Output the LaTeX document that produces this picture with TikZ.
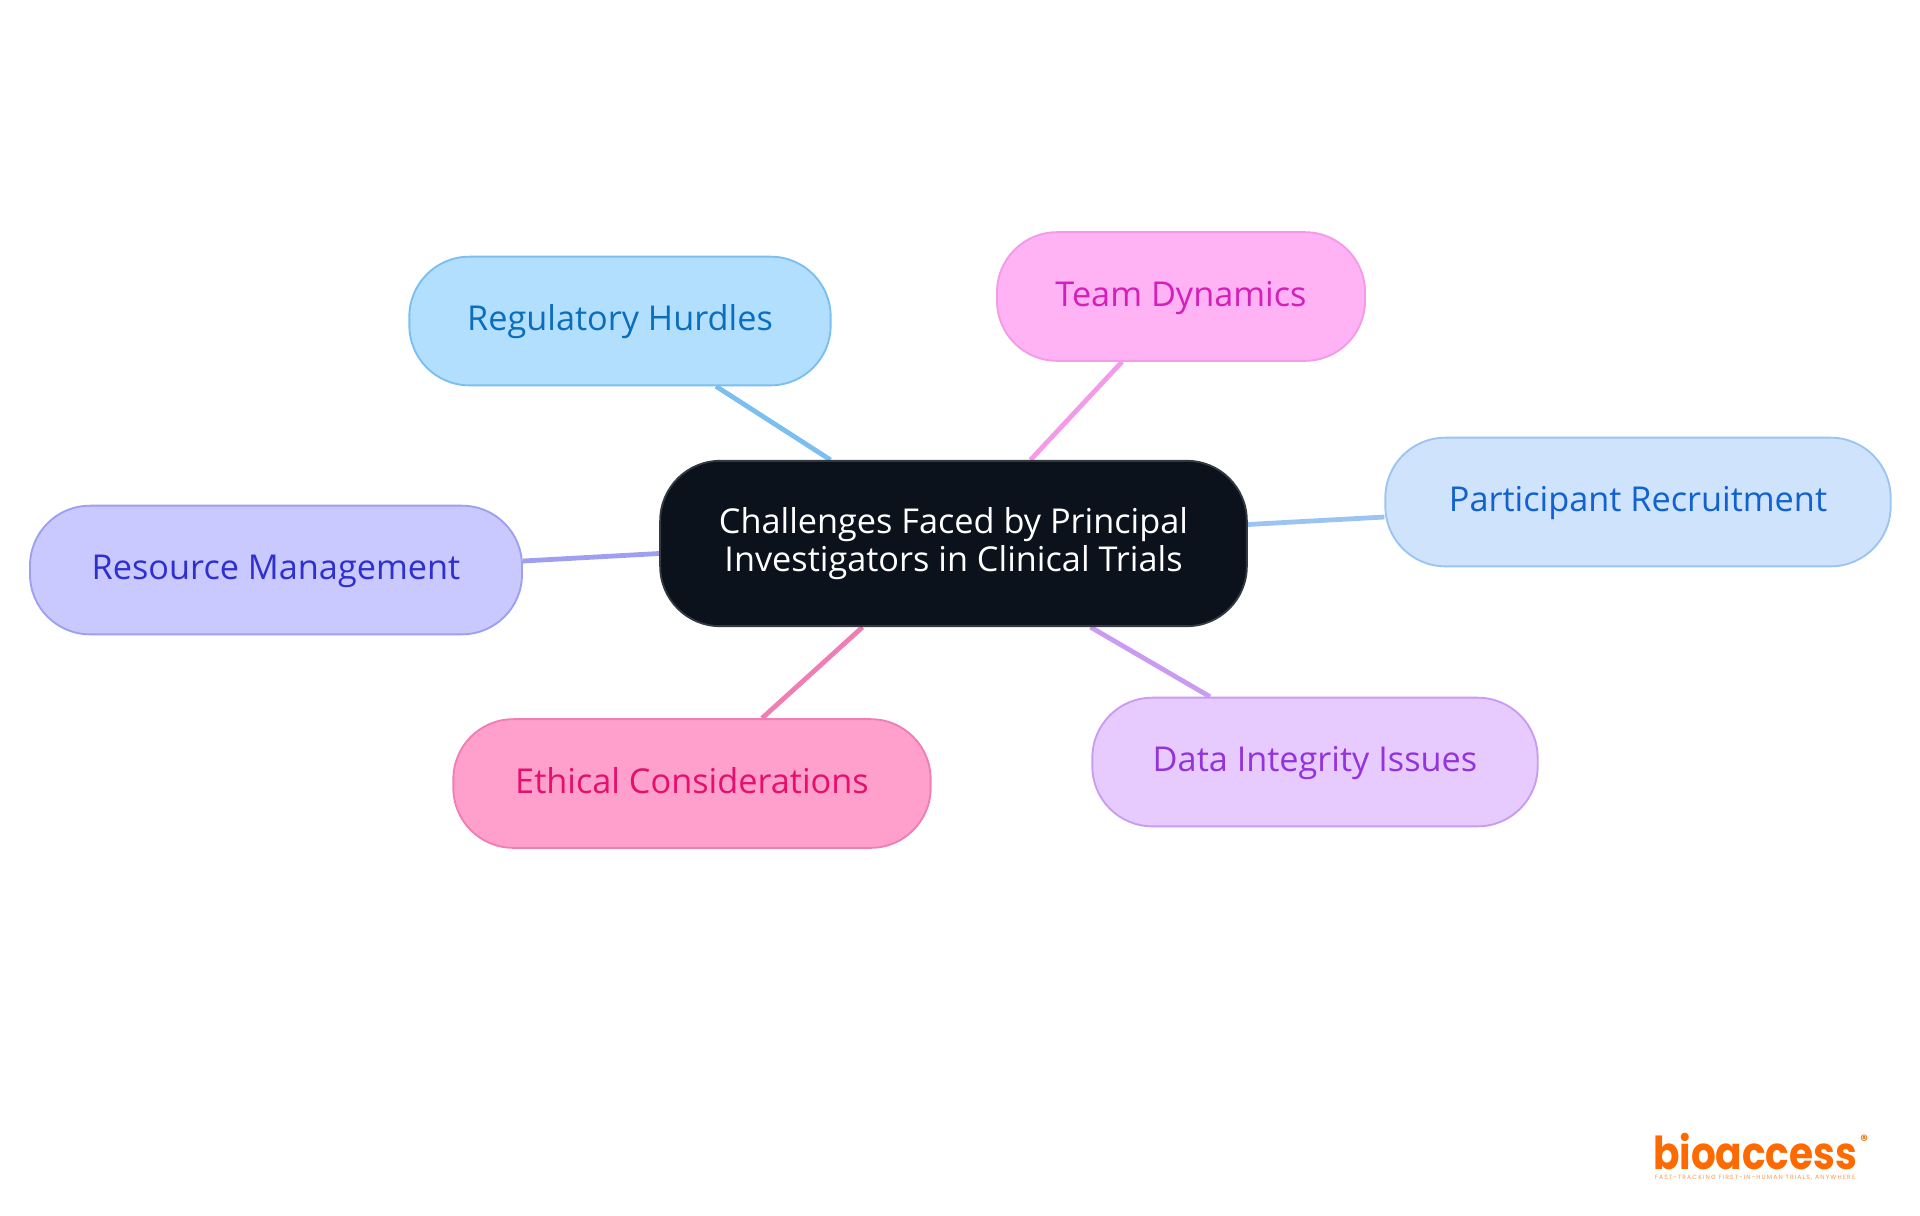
\documentclass[tikz,border=0pt]{standalone}
\usepackage{fontspec}
\setmainfont{Open Sans}
\newfontfamily\logofont{Poppins}
\usetikzlibrary{calc,backgrounds}

\definecolor{mainfill}{HTML}{0B121B}
\definecolor{mainline}{HTML}{34383F}
\definecolor{regfill}{HTML}{B3DFFF}
\definecolor{regline}{HTML}{7ABFF0}
\definecolor{regtext}{HTML}{0A6EBD}
\definecolor{teamfill}{HTML}{FFB3F5}
\definecolor{teamline}{HTML}{F39AE8}
\definecolor{teamtext}{HTML}{D41FB8}
\definecolor{partfill}{HTML}{CFE3FC}
\definecolor{partline}{HTML}{9CC4F2}
\definecolor{parttext}{HTML}{0F62D0}
\definecolor{datafill}{HTML}{E8CBFE}
\definecolor{dataline}{HTML}{C99BF3}
\definecolor{datatext}{HTML}{9333DC}
\definecolor{ethfill}{HTML}{FF9FCB}
\definecolor{ethline}{HTML}{F07DB4}
\definecolor{ethtext}{HTML}{E5106E}
\definecolor{resfill}{HTML}{C9C9FF}
\definecolor{resline}{HTML}{9E9FF0}
\definecolor{restext}{HTML}{2F2FCF}
\definecolor{logoorange}{HTML}{FF6A00}

\tikzset{
    topic/.style={draw, line width=1.4pt, rounded corners=45pt, align=center, inner sep=0pt,
        font=\fontsize{25.7}{28}\selectfont},
    leaf/.style={topic, minimum height=96.5pt, text height=20pt, text depth=5.4pt},
    regbox/.style={leaf, fill=regfill, draw=regline, text=regtext},
    teambox/.style={leaf, fill=teamfill, draw=teamline, text=teamtext},
    partbox/.style={leaf, fill=partfill, draw=partline, text=parttext},
    databox/.style={leaf, fill=datafill, draw=dataline, text=datatext},
    ethbox/.style={leaf, fill=ethfill, draw=ethline, text=ethtext},
    resbox/.style={leaf, fill=resfill, draw=resline, text=restext},
    link/.style={line width=3.6pt},
}

\begin{document}
\begin{tikzpicture}[x=0.75pt,y=-0.75pt]
    \useasboundingbox (0,0) rectangle (1920,1215);
    \node[topic, fill=mainfill, draw=mainline, text=white, minimum width=440pt, minimum height=124pt] (main) at (953.5,543.5)
        {Challenges Faced by Principal\\Investigators in Clinical Trials};
    \node[regbox, minimum width=316pt] (regulatory) at (620,321) {Regulatory Hurdles};
    \node[teambox, minimum width=276pt] (team) at (1181,296.5) {Team Dynamics};
    \node[partbox, minimum width=379pt] (participant) at (1638,502) {Participant Recruitment};
    \node[databox, minimum width=334pt] (integrity) at (1315,762) {Data Integrity Issues};
    \node[ethbox, minimum width=358pt] (ethical) at (692,783.5) {Ethical Considerations};
    \node[resbox, minimum width=369pt] (resource) at (276,570) {Resource Management};

    \begin{scope}[on background layer]
        \draw[link, regline] ($(regulatory.south)+(96,0)$) -- ($(main.north)+(-123,0)$);
        \draw[link, teamline] ($(team.south)+(-59,0)$) -- ($(main.north)+(77,0)$);
        \draw[link, partline] ($(participant.west)+(0,15)$) -- ($(main.east)+(0,-19)$);
        \draw[link, dataline] ($(integrity.north)+(-105,0)$) -- ($(main.south)+(137,0)$);
        \draw[link, ethline] ($(ethical.north)+(70,0)$) -- ($(main.south)+(-91,0)$);
        \draw[link, resline] ($(resource.east)+(0,-9)$) -- ($(main.west)+(0,10)$);
    \end{scope}

    % logo
    \node[inner sep=0pt, xscale=0.86, text depth=0pt, text=logoorange, font=\logofont\bfseries\fontsize{34}{34}\selectfont] (logo) at (1755,1151) {bioaccess};
    \node[inner sep=0pt, text=logoorange, font=\logofont\bfseries\fontsize{11}{11}\selectfont] (mark) at (1864,1140) {®};
    \node[inner sep=0pt, text=logoorange!70, font=\logofont\fontsize{4.6}{5}\selectfont] (tagline) at (1755,1178)
        {\addfontfeature{LetterSpace=18}FAST-TRACKING FIRST-IN-HUMAN TRIALS, ANYWHERE};
\end{tikzpicture}
\end{document}
